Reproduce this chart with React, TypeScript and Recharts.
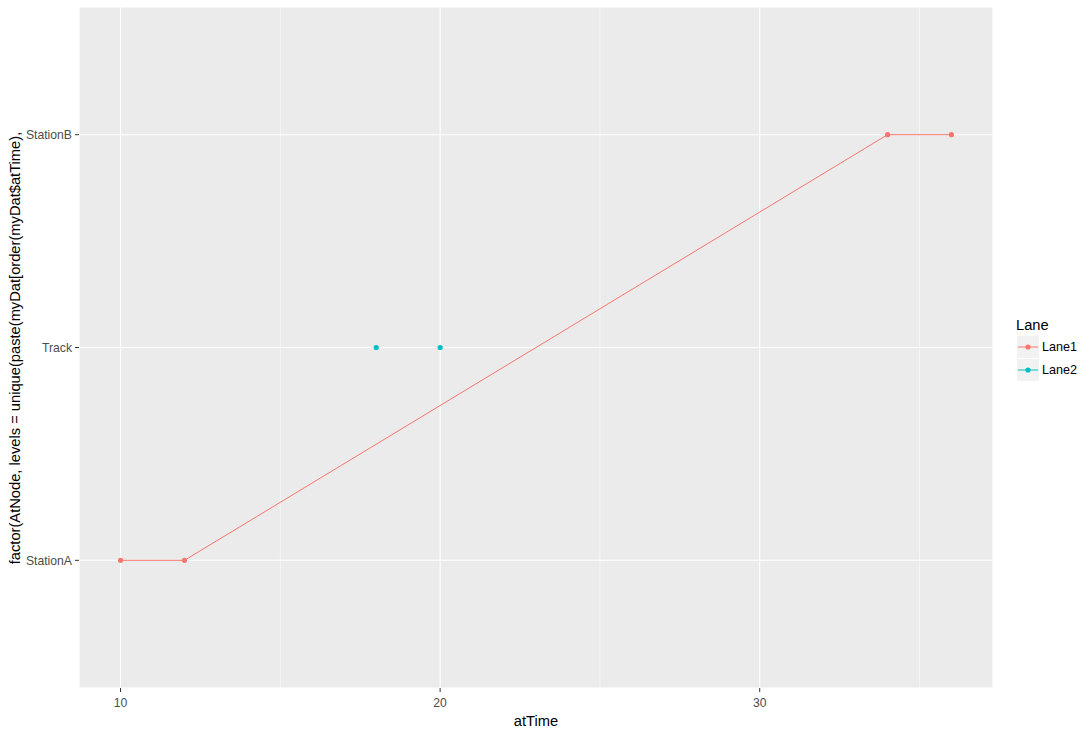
import React from 'react';
import { ComposedChart, Line, XAxis, YAxis, CartesianGrid, ReferenceLine } from 'recharts';

const nodeLevels = ['StationA', 'Track', 'StationB'];
const laneNames = ['Lane1', 'Lane2'];
const laneColors = ['#F8766D', '#00BFC4'];

const lane1Time = [10, 12, 34, 36];
const lane1Node = ['StationA', 'StationA', 'StationB', 'StationB'];
const lane2Time = [18, 20];
const lane2Node = ['Track', 'Track'];

const xTicks = [10, 20, 30];
const xMinorTicks = [15, 25, 35];
const yTicks = [1, 2, 3];

const lane1Data = lane1Time.map((t, i) => ({ t, y: nodeLevels.indexOf(lane1Node[i]) + 1 }));
const lane2Data = lane2Time.map((t, i) => ({ t, y: nodeLevels.indexOf(lane2Node[i]) + 1 }));

const FONT = '"Liberation Sans", Arial, sans-serif';

export default function App() {
  return (
    <div style={{ position: 'absolute', left: 0, top: 0, width: 1092, height: 733, background: '#fff', fontFamily: FONT }}>
      <ComposedChart width={1092} height={733} margin={{ top: 7, right: 99, bottom: 0, left: 0 }}>
        <CartesianGrid fill="#EBEBEB" stroke="#FFFFFF" strokeWidth={1.1} />
        {xMinorTicks.map((v) => (
          <ReferenceLine key={v} x={v} stroke="#FFFFFF" strokeWidth={0.55} />
        ))}
        <XAxis
          type="number"
          dataKey="t"
          domain={[8.7, 37.3]}
          ticks={xTicks}
          allowDataOverflow
          height={45}
          axisLine={false}
          tickLine={{ stroke: '#333333', strokeWidth: 1 }}
          tickSize={4}
          tickMargin={6}
          tick={{ fill: '#4D4D4D', fontSize: 12.2, fontFamily: FONT }}
          label={{
            content: () => (
              <text x={536} y={726} textAnchor="middle" fontSize={14.7} fill="#000" fontFamily={FONT}>
                atTime
              </text>
            ),
          }}
        />
        <YAxis
          type="number"
          dataKey="y"
          domain={[0.4, 3.6]}
          ticks={yTicks}
          allowDataOverflow
          width={79}
          axisLine={false}
          tickLine={{ stroke: '#333333', strokeWidth: 1 }}
          tickSize={4}
          tickMargin={3}
          tickFormatter={(v: number) => nodeLevels[v - 1] ?? ''}
          tick={{ fill: '#4D4D4D', fontSize: 12.2, fontFamily: FONT }}
          label={{
            content: () => (
              <text
                x={20}
                y={348}
                textAnchor="middle"
                fontSize={14.7}
                fill="#000"
                fontFamily={FONT}
                transform="rotate(-90, 20, 348)"
              >
                factor(AtNode, levels = unique(paste(myDat[order(myDat$atTime),
              </text>
            ),
          }}
        />
        <Line
          data={lane1Data}
          dataKey="y"
          type="linear"
          stroke={laneColors[0]}
          strokeWidth={1}
          dot={{ r: 2.6, fill: laneColors[0], stroke: 'none' }}
          activeDot={false}
          isAnimationActive={false}
        />
        <Line
          data={lane2Data}
          dataKey="y"
          type="linear"
          stroke="none"
          strokeWidth={0}
          dot={{ r: 2.6, fill: laneColors[1], stroke: 'none' }}
          activeDot={false}
          isAnimationActive={false}
        />
      </ComposedChart>
      <div style={{ position: 'absolute', left: 1010, top: 312, width: 82, height: 80 }}>
        <svg width={82} height={80}>
          <text x={6} y={18} fontSize={14.7} fill="#000" fontFamily={FONT}>Lane</text>
          {laneNames.map((name, i) => {
            const y0 = 24 + i * 23;
            return (
              <g key={name}>
                <rect x={7} y={y0} width={22} height={22} fill="#F2F2F2" />
                <line x1={8} x2={28} y1={y0 + 11} y2={y0 + 11} stroke={laneColors[i]} strokeWidth={1} />
                <circle cx={18} cy={y0 + 11} r={2.6} fill={laneColors[i]} />
                <text x={32} y={y0 + 15} fontSize={12.6} fill="#000" fontFamily={FONT}>{name}</text>
              </g>
            );
          })}
        </svg>
      </div>
    </div>
  );
}
